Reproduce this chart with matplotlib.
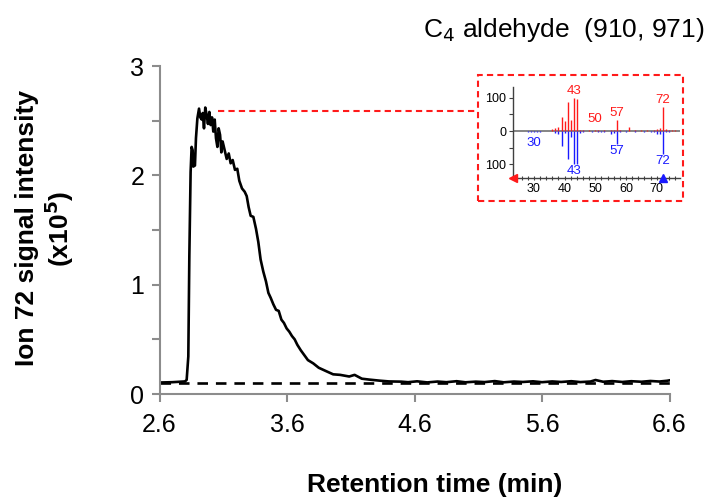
import numpy as np
import matplotlib
matplotlib.use("Agg")
import matplotlib.pyplot as plt
from matplotlib.patches import Rectangle

plt.rcParams['font.family'] = ['Liberation Sans', 'DejaVu Sans']

# chromatogram, ion 72 (x10^5) vs retention time (min)
rt = [2.60, 2.70, 2.800, 2.813, 2.826, 2.834, 2.844, 2.852, 2.860, 2.865, 2.878,
      2.886, 2.897, 2.910, 2.920, 2.931, 2.939, 2.949, 2.959, 2.970, 2.980,
      2.991, 3.001, 3.012, 3.022, 3.033, 3.043, 3.054, 3.064, 3.075, 3.085,
      3.095, 3.111, 3.127, 3.143, 3.158, 3.174, 3.192, 3.210, 3.226, 3.247,
      3.268, 3.284, 3.299, 3.315, 3.336, 3.357, 3.375, 3.393, 3.414, 3.435,
      3.454, 3.472, 3.493, 3.514, 3.535, 3.556, 3.576, 3.597, 3.618, 3.639,
      3.660, 3.681, 3.708, 3.764, 3.806, 3.849, 3.905, 3.962, 4.017,
      4.088, 4.130, 4.187, 4.243, 4.327, 4.40, 4.496, 4.55, 4.62, 4.70, 4.78,
      4.85, 4.93, 5.00, 5.08, 5.15, 5.23, 5.30, 5.38, 5.45, 5.53, 5.60, 5.68,
      5.75, 5.83, 5.90, 5.98, 6.02, 6.08, 6.15, 6.23, 6.30, 6.38, 6.45, 6.52,
      6.58, 6.60]
signal = [0.105, 0.108, 0.115, 0.129, 0.343, 1.26, 2.03, 2.26, 2.23, 2.08, 2.09,
          2.34, 2.52, 2.61, 2.53, 2.51, 2.57, 2.43, 2.62, 2.55, 2.47,
          2.58, 2.46, 2.53, 2.40, 2.51, 2.34, 2.26, 2.43, 2.37, 2.21,
          2.31, 2.23, 2.15, 2.20, 2.11, 2.14, 2.05, 2.06, 1.95, 1.88,
          1.85, 1.81, 1.71, 1.63, 1.62, 1.51, 1.39, 1.23, 1.12, 1.03,
          0.925, 0.88, 0.82, 0.77, 0.76, 0.68, 0.65, 0.60, 0.57, 0.53,
          0.50, 0.45, 0.40, 0.31, 0.28, 0.24, 0.21, 0.18, 0.175,
          0.16, 0.175, 0.14, 0.132, 0.122, 0.115, 0.113, 0.108, 0.116, 0.106,
          0.114, 0.108, 0.117, 0.107, 0.113, 0.109, 0.118, 0.107, 0.114, 0.110,
          0.116, 0.108, 0.115, 0.110, 0.117, 0.109, 0.114, 0.128, 0.112, 0.118,
          0.110, 0.117, 0.112, 0.119, 0.114, 0.121, 0.125]

# blank (dashed)
rt_blank = [2.60, 6.60]
signal_blank = [0.105, 0.105]

xticks = [2.6, 3.6, 4.6, 5.6, 6.6]

# inset mass spectra: library (red, up) and measured (blue, down)
mz_lib = [36, 37, 38, 39, 40, 41, 42, 43, 44, 45, 46, 48, 50, 51, 53, 55, 56,
          57, 58, 61, 63, 65, 67, 69, 70, 71, 72, 73, 74, 75, 76]
int_lib = [5, 8, 12, 43, 30, 88, 32, 100, 97, 3, 3, 3, 4, 3, 3, 4, 3,
           33, 3, 13, 3, 3, 3, 3, 5, 10, 72, 5, 3, 3, 2]
mz_meas = [28, 29, 30, 31, 32, 37, 38, 39, 40, 41, 42, 43, 44, 45, 46, 49, 51, 52,
           53, 55, 56, 57, 58, 60, 63, 66, 68, 69, 70, 71, 72, 73, 74]
int_meas = [3, 3, 3, 3, 3, 5, 10, 45, 6, 86, 18, 100, 100, 5, 3, 3, 3, 3,
            3, 8, 6, 38, 4, 3, 3, 3, 4, 3, 10, 8, 68, 4, 3]
lib_labels = [43, 50, 57, 72]
meas_labels = [30, 43, 57, 72]

red = '#ff1a1a'
blue = '#1a1aff'
gray = '#8c8c8c'

fig = plt.figure(figsize=(7.1, 5.0), dpi=100)
ax = fig.add_axes([159.5 / 710, 0.212, 510 / 710, 328 / 500])

ax.plot(rt_blank, signal_blank, color='black', lw=1.9, ls=(0, (4, 3)))
ax.plot(rt, signal, color='black', lw=1.9)

ax.set_xlim(2.6, 6.6)
ax.set_ylim(0, 3)
ax.set_xticks(xticks)
ax.set_xticklabels(['%.1f' % t for t in xticks])
ax.set_yticks([0, 1, 2, 3])
ax.set_yticks([0.5, 1.5, 2.5], minor=True)
for s in ['top', 'right']:
    ax.spines[s].set_visible(False)
for s in ['left', 'bottom']:
    ax.spines[s].set_color(gray)
    ax.spines[s].set_linewidth(1.5)
ax.tick_params(which='both', direction='out', length=6, width=1.5, color=gray,
               labelsize=18, pad=5)
ax.tick_params(axis='x', pad=8)

fig.text(435 / 710, 0.016, 'Retention time (min)', fontsize=19, fontweight='bold',
         ha='center', va='baseline')
fig.text(0.064, 0.543, 'Ion 72 signal intensity\n(x10$^{\\mathbf{5}}$)', fontsize=19,
         fontweight='bold', ha='center', va='center', rotation=90, linespacing=1.1)
fig.text(705 / 710, 0.926, 'C$_4$ aldehyde  (910, 971)', fontsize=19,
         ha='right', va='baseline')

# connector from peak top to inset box
i_pk = int(np.argmax(signal))
x_end = 2.6 + (478 - 159.5) / 510 * 4.0
ax.plot([rt[i_pk] + 0.1, x_end], [2.585, 2.585], color=red, lw=1.5,
        ls=(0, (3, 2)), clip_on=False)

# dashed red box
fig.patches.append(Rectangle((478 / 710, 1 - 201 / 500), 205 / 710, 126 / 500,
                             transform=fig.transFigure, fill=False,
                             edgecolor=red, lw=1.5, ls=(0, (3, 2))))

ins = fig.add_axes([513 / 710, 1 - 178 / 500, 167 / 710, 91 / 500])
ins.axhline(0, color='#707070', lw=1.2, zorder=1)
ins.vlines(mz_lib, 0, int_lib, color=red, lw=1.0, zorder=2)
ins.vlines(mz_meas, 0, [-v for v in int_meas], color=blue, lw=1.0, zorder=2)
ins.set_xlim(23.2, 77.6)
ins.set_ylim(-142, 133)
for m in lib_labels:
    v = int_lib[mz_lib.index(m)]
    ins.text(m, max(v, 15) + 3, str(m), color=red, fontsize=9.5, ha='center', va='bottom')
for m in meas_labels:
    v = int_meas[mz_meas.index(m)]
    ins.text(m, -max(v, 15) - 3, str(m), color=blue, fontsize=9.5, ha='center', va='top')
ins.set_xticks([30, 40, 50, 60, 70])
ins.set_xticks(np.arange(24, 78, 2), minor=True)
ins.set_yticks([-100, 0, 100])
ins.set_yticklabels(['100', '0', '100'])
ins.set_yticks([-50, 50], minor=True)
for s in ['top', 'right']:
    ins.spines[s].set_visible(False)
for s in ['left', 'bottom']:
    ins.spines[s].set_color('#404040')
    ins.spines[s].set_linewidth(1.0)
ins.tick_params(which='both', labelsize=9, length=3, width=0.8, color='#404040', pad=2)
ins.tick_params(axis='x', which='both', direction='inout', length=3)
ins.patch.set_alpha(0)
ins.plot([23.2], [-142], marker='<', color=red, ms=6, clip_on=False, zorder=5)
ins.plot([72], [-142], marker='^', color=blue, ms=6, clip_on=False, zorder=5)

fig.savefig('out.png', dpi=100)
